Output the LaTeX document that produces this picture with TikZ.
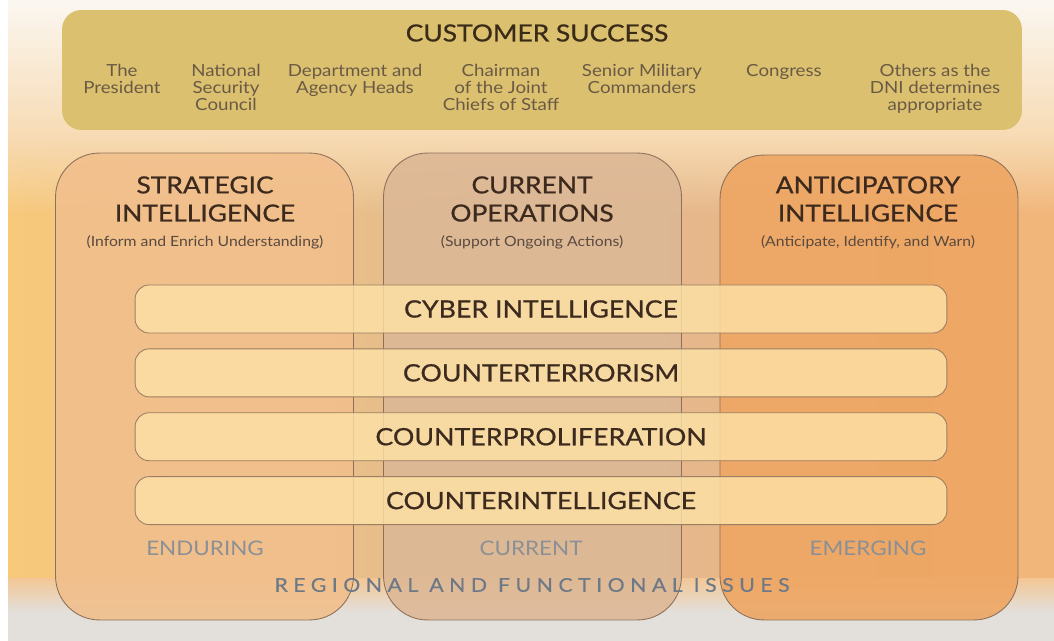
\documentclass[tikz,border=0pt]{standalone}
\usepackage{fontspec}
\setmainfont{Lato}[FakeStretch=1.12]
\usetikzlibrary{positioning}
\usetikzlibrary{fadings}

\definecolor{bgtop}{HTML}{FBF8F3}
\definecolor{bgpeach}{HTML}{F7DAB2}
\definecolor{bgleft}{HTML}{F7C97B}
\definecolor{bgmid}{HTML}{E0B891}
\definecolor{bgright}{HTML}{F2B679}
\definecolor{bgband}{HTML}{F3C795}
\definecolor{bggray}{HTML}{E3DFDA}
\definecolor{custgold}{HTML}{DBC06F}
\definecolor{custtext}{HTML}{3A2A18}
\definecolor{whotext}{HTML}{6A5A45}
\definecolor{stratfill}{HTML}{F1BF8C}
\definecolor{currfill}{HTML}{DDB896}
\definecolor{anticfill}{HTML}{EEA663}
\definecolor{coledge}{HTML}{8D705A}
\definecolor{barfill}{HTML}{FDE1A6}
\definecolor{baredge}{HTML}{9C7E62}
\definecolor{darkbrown}{HTML}{3C2A1E}
\definecolor{horizgray}{HTML}{8A9096}
\definecolor{regiongray}{HTML}{6D7986}

\tikzset{
  custbox/.style={fill=custgold, rounded corners=11pt, minimum width=19.2cm, minimum height=2.4cm},
  who/.style={align=center, anchor=north, inner sep=0pt, text=whotext, font=\fontsize{9.5}{9.7}\selectfont},
  colbox/.style={draw=coledge, line width=0.5pt, rounded corners=25pt, minimum width=5.96cm, fill opacity=0.9},
  coltitle/.style={align=center, text=darkbrown, font=\fontsize{13.4}{16}\selectfont\addfontfeature{FakeBold=0.7}},
  colsub/.style={text=darkbrown!85, font=\fontsize{8}{9}\selectfont},
  issuebar/.style={draw=baredge, line width=0.5pt, fill=barfill, fill opacity=0.82, text opacity=1,
    rounded corners=8pt, minimum width=16.24cm, minimum height=0.96cm,
    font=\fontsize{13.6}{15}\selectfont\addfontfeature{FakeBold=0.7}, text=darkbrown},
  horizon/.style={text=horizgray, font=\fontsize{11.4}{13}\selectfont},
}

\begin{document}
\begin{tikzpicture}[x=0.02cm, y=-0.02cm]
\useasboundingbox (0,0) rectangle (1054,641);
% background
\fill[white] (0,0) rectangle (1054,641);
\shade[top color=bgtop, bottom color=bgpeach] (8,-5) rectangle (1064,140);
\shade[left color=bgleft, right color=bgright, middle color=bgmid] (8,140) rectangle (1064,578);
\fill[bgpeach, path fading=south] (8,139) rectangle (1064,215);
\shade[top color=bgband, bottom color=bggray] (8,578) rectangle (1064,612);
\fill[bggray] (8,612) rectangle (1064,646);

% customers
\node[custbox] (cust) at (542,70) {};
\node[text=custtext, font=\fontsize{13.4}{15}\selectfont\addfontfeature{FakeBold=0.7}] (custtitle) at (537,33) {CUSTOMER SUCCESS};
\node[who] (pres) at (122,64) {The\\President};
\node[who] (nsc) at (226,64) {National\\Security\\Council};
\node[who] (dept) at (355,64) {Department and\\Agency Heads};
\node[who] (cjcs) at (501,64) {Chairman\\of the Joint\\Chiefs of Staff};
\node[who] (smc) at (642,64) {Senior Military\\Commanders};
\node[who] (cong) at (784,64) {Congress};
\node[who] (dni) at (935,64) {Others as the\\DNI determines\\appropriate};

% mission columns
\node[colbox, fill=stratfill, minimum height=9.34cm] (strat) at (204.5,386.5) {};
\node[colbox, fill=currfill, minimum height=9.34cm] (curr) at (532.5,386.5) {};
\node[colbox, fill=anticfill, minimum height=9.3cm] (antic) at (869,387.5) {};

\node[coltitle] (strattitle) at (205,199) {STRATEGIC\\INTELLIGENCE};
\node[coltitle] (currtitle) at (532,199) {CURRENT\\OPERATIONS};
\node[coltitle] (antictitle) at (868,199) {ANTICIPATORY\\INTELLIGENCE};
\node[colsub] (stratsub) at (205,242) {(Inform and Enrich Understanding)};
\node[colsub] (currsub) at (532,242) {(Support Ongoing Actions)};
\node[colsub] (anticsub) at (868,242) {(Anticipate, Identify, and Warn)};

% topical bars
\node[issuebar] (cyber) at (541,309) {CYBER INTELLIGENCE};
\node[issuebar, below=0.3cm of cyber] (ct) {COUNTERTERRORISM};
\node[issuebar, below=0.3cm of ct] (cp) {COUNTERPROLIFERATION};
\node[issuebar, below=0.3cm of cp] (ci) {COUNTERINTELLIGENCE};

% time horizons
\node[horizon] (endur) at (205,548) {ENDURING};
\node[horizon] (current) at (531,548) {CURRENT};
\node[horizon] (emerg) at (868,548) {EMERGING};
\node[text=regiongray, font=\fontsize{10.8}{12}\selectfont\addfontfeature{LetterSpace=29,FakeBold=0.4}] (region) at (532,585) {REGIONAL AND FUNCTIONAL ISSUES};
\end{tikzpicture}
\end{document}
